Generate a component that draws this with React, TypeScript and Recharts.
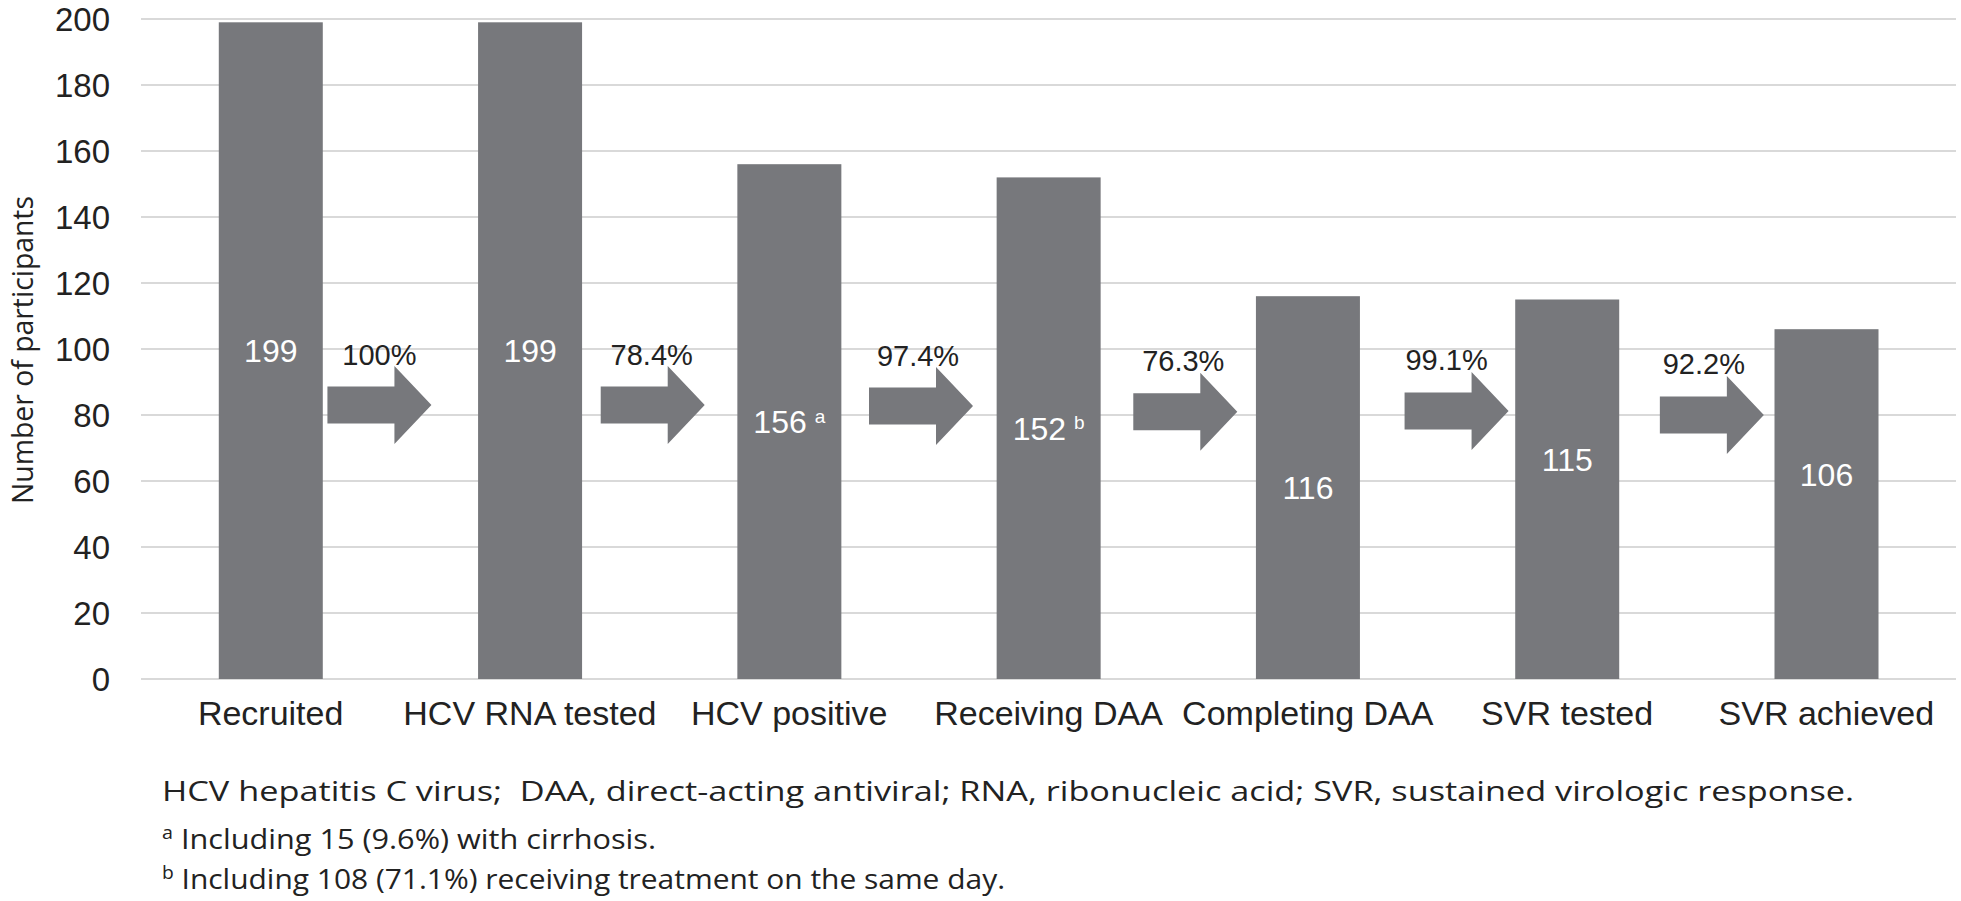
import React from "react";
import { BarChart, Bar, XAxis, YAxis, CartesianGrid } from "recharts";

// cascade of care
const stages = [
  "Recruited",
  "HCV RNA tested",
  "HCV positive",
  "Receiving DAA",
  "Completing DAA",
  "SVR tested",
  "SVR achieved",
];
const participants = [199, 199, 156, 152, 116, 115, 106];
const footMarks = ["", "", "a", "b", "", "", ""];
const stepPercents = ["100%", "78.4%", "97.4%", "76.3%", "99.1%", "92.2%"];
const yTicks = [0, 20, 40, 60, 80, 100, 120, 140, 160, 180, 200];

// where the white count sits inside each bar, and the arrow heights (axis units)
const labelAt = [99.5, 99.5, 78, 76, 58, 66.4, 62];
const arrowAt = [83, 83, 82.7, 81, 81.2, 80];

const chartData = stages.map((name, i) => ({
  name,
  value: participants[i],
  mark: footMarks[i],
}));

const W = 1961;
const H = 760;
const MARGIN = { top: 19, right: 5, bottom: 0, left: 0 };
const YAXIS_W = 141;
const BAND = (W - MARGIN.left - MARGIN.right - YAXIS_W) / stages.length;
// arrows in the original are not exactly centred between bars
const ARROW_NUDGE = [-21, -7, 2, 7, 19, 15];
const LABEL_NUDGE = [0, -1, -3, -2, -10, -8];

const BAR_COLOR = "#77787c";
const TEXT = "#222222";
const FONT = "'Liberation Sans', Arial, sans-serif";
const NOTE_FONT = "'Open Sans', 'Noto Sans', sans-serif";

function CascadeBar(props: any) {
  const { x, y, width, height, index, payload } = props;
  const base = y + height;
  const ppu = height / payload.value;
  const cx = x + width / 2;
  const ly = base - labelAt[index] * ppu;

  let arrow = null;
  if (index < stepPercents.length) {
    const ax = x + width / 2 + BAND / 2 + ARROW_NUDGE[index];
    const ay = base - arrowAt[index] * ppu;
    const len = 104;
    const shaft = 18.5;
    const head = 39;
    const headLen = 37;
    const x0 = ax - len / 2;
    const x1 = ax + len / 2 - headLen;
    const x2 = ax + len / 2;
    const pts = [
      [x0, ay - shaft],
      [x1, ay - shaft],
      [x1, ay - head],
      [x2, ay],
      [x1, ay + head],
      [x1, ay + shaft],
      [x0, ay + shaft],
    ]
      .map((p) => p.join(","))
      .join(" ");
    arrow = (
      <g>
        <polygon points={pts} fill={BAR_COLOR} />
        <text
          x={ax + LABEL_NUDGE[index]}
          y={ay - 51}
          dy="0.36em"
          textAnchor="middle"
          fontSize={29}
          fontFamily={FONT}
          fill={TEXT}
        >
          {stepPercents[index]}
        </text>
      </g>
    );
  }

  return (
    <g>
      <rect x={x} y={y} width={width} height={height} fill={BAR_COLOR} />
      <text
        x={cx}
        y={ly}
        dy="0.36em"
        textAnchor="middle"
        fontSize={32}
        fontFamily={FONT}
        fill="#ffffff"
      >
        {payload.value}
        {payload.mark ? (
          <tspan fontSize={19} dy="-0.55em" dx="8">
            {payload.mark}
          </tspan>
        ) : null}
      </text>
      {arrow}
    </g>
  );
}

function YTitle() {
  return (
    <text
      x={21}
      y={350}
      transform="rotate(-90, 21, 350)"
      textAnchor="middle"
      dominantBaseline="central"
      fontSize={29}
      textLength={308}
      lengthAdjust="spacingAndGlyphs"
      fontFamily={NOTE_FONT}
      fill={TEXT}
    >
      Number of participants
    </text>
  );
}

export default function App() {
  return (
    <div
      style={{
        position: "absolute",
        left: 0,
        top: 0,
        width: W,
        height: 901,
        background: "#ffffff",
      }}
    >
      <BarChart
        width={W}
        height={H}
        data={chartData}
        margin={MARGIN}
        barCategoryGap="30%"
      >
        <CartesianGrid vertical={false} stroke="#d9d9d9" strokeWidth={2} />
        <XAxis
          dataKey="name"
          interval={0}
          axisLine={false}
          tickLine={false}
          tickSize={0}
          tickMargin={22}
          height={H - 679}
          tick={{ fontSize: 34, fill: TEXT, fontFamily: FONT }}
        />
        <YAxis
          width={YAXIS_W}
          domain={[0, 200]}
          ticks={yTicks}
          axisLine={false}
          tickLine={false}
          tickSize={0}
          tickMargin={31}
          tick={{ fontSize: 33, fill: TEXT, fontFamily: FONT }}
          label={{ content: () => <YTitle /> }}
        />
        <Bar
          dataKey="value"
          fill={BAR_COLOR}
          isAnimationActive={false}
          shape={(p: any) => <CascadeBar {...p} />}
        />
      </BarChart>
      <svg
        width={W}
        height={901}
        style={{ position: "absolute", left: 0, top: 0, pointerEvents: "none" }}
        fontFamily={NOTE_FONT}
        fill={TEXT}
      >
        <text
          x={162}
          y={801}
          fontSize={28}
          textLength={1692}
          lengthAdjust="spacingAndGlyphs"
        >
          HCV hepatitis C virus;{"\u00a0\u00a0"}DAA, direct-acting antiviral; RNA, ribonucleic acid; SVR, sustained virologic response.
        </text>
        <text
          x={162}
          y={849}
          fontSize={28}
          textLength={494}
          lengthAdjust="spacingAndGlyphs"
        >
          <tspan fontSize={18} dy={-10}>a</tspan>
          <tspan dy={10}> Including 15 (9.6%) with cirrhosis.</tspan>
        </text>
        <text
          x={162}
          y={889}
          fontSize={28}
          textLength={843}
          lengthAdjust="spacingAndGlyphs"
        >
          <tspan fontSize={18} dy={-10}>b</tspan>
          <tspan dy={10}> Including 108 (71.1%) receiving treatment on the same day.</tspan>
        </text>
      </svg>
    </div>
  );
}
